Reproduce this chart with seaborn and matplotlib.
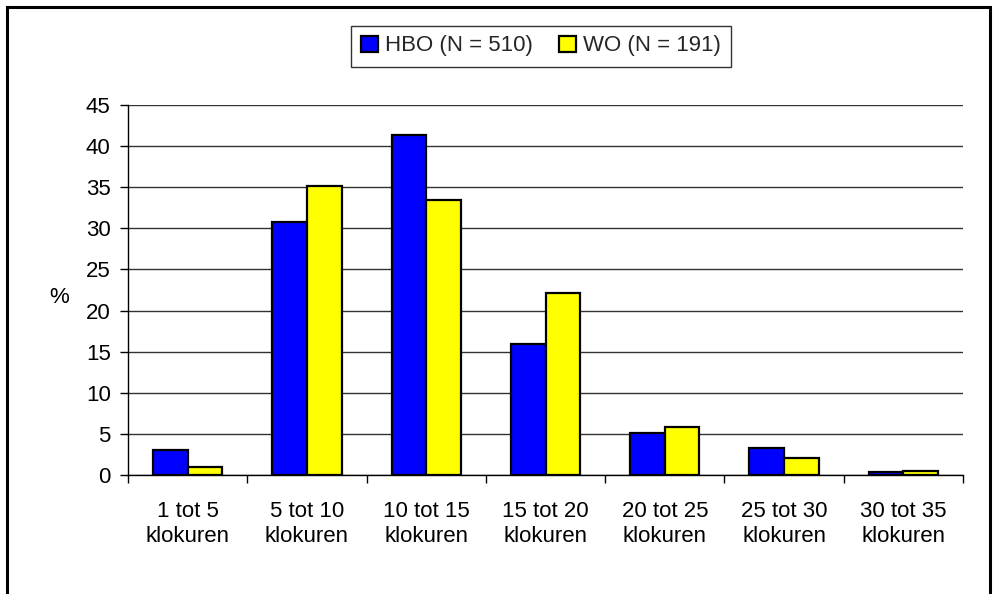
import matplotlib
matplotlib.use("Agg")
import matplotlib.pyplot as plt
import seaborn as sns
import pandas as pd
import numpy as np
from matplotlib.patches import Patch, Rectangle

categories = ["1 tot 5\nklokuren", "5 tot 10\nklokuren", "10 tot 15\nklokuren",
              "15 tot 20\nklokuren", "20 tot 25\nklokuren", "25 tot 30\nklokuren",
              "30 tot 35\nklokuren"]
hbo = [3.1, 30.8, 41.4, 15.9, 5.1, 3.3, 0.4]
wo = [1.0, 35.1, 33.5, 22.1, 5.8, 2.1, 0.5]
series = ["HBO (N = 510)", "WO (N = 191)"]
colors = ["#0000FF", "#FFFF00"]
yticks = [0, 5, 10, 15, 20, 25, 30, 35, 40, 45]

df = pd.DataFrame({
    "cat": categories * 2,
    "val": hbo + wo,
    "group": [series[0]] * len(categories) + [series[1]] * len(categories),
})

sns.set_theme(style="white")
plt.rcParams["font.family"] = ["Liberation Sans", "DejaVu Sans"]

FS = 16
W, H = 996, 594
fig = plt.figure(figsize=(W / 100, H / 100), dpi=100)
ax = fig.add_axes([128 / W, 1 - 475 / H, (963 - 128) / W, (475 - 105) / H])

sns.barplot(data=df, x="cat", y="val", hue="group", order=categories,
            hue_order=series, palette=colors, width=0.58, ax=ax,
            edgecolor="black", linewidth=1.6, saturation=1, legend=False, zorder=3)

ax.set_xlim(-0.5, len(categories) - 0.5)
ax.set_ylim(0, 45)
ax.set_yticks(yticks)
ax.yaxis.grid(True, color="#333333", linewidth=1.0, zorder=0)
ax.xaxis.grid(False)
for s in ["top", "right"]:
    ax.spines[s].set_visible(False)
for s in ["left", "bottom"]:
    ax.spines[s].set_color("black")
    ax.spines[s].set_linewidth(1.0)

ax.tick_params(axis="y", which="major", left=True, length=5.5, width=1,
               color="black", labelsize=FS, pad=7, labelcolor="black")
ax.set_xticks(range(len(categories)))
ax.set_xticklabels(categories)
ax.tick_params(axis="x", which="major", bottom=False, length=0, labelsize=FS,
               pad=19, labelcolor="black")
ax.set_xticks(np.arange(-0.5, len(categories), 1.0), minor=True)
ax.tick_params(axis="x", which="minor", bottom=True, length=6, width=1, color="black")
for lbl in ax.get_xticklabels():
    lbl.set_linespacing(1.25)

ax.set_xlabel("")
ax.set_ylabel("%", rotation=0, fontsize=FS, color="black")
ax.yaxis.set_label_coords(-0.082, 0.45)

handles = [Patch(facecolor=c, edgecolor="black", linewidth=1.6) for c in colors]
leg = fig.legend(handles, series, loc="center", bbox_to_anchor=(541 / W, 1 - 46 / H),
                 ncol=2, frameon=True, fancybox=False, fontsize=FS,
                 handlelength=0.75, handleheight=0.75, handletextpad=0.3,
                 columnspacing=1.2, borderpad=0.45, edgecolor="black")
leg.get_frame().set_linewidth(1.0)

# outer chart frame
fig.patches.append(Rectangle((7 / W, -0.05), (990 - 7) / W, 1.05 - 7 / H,
                             transform=fig.transFigure, fill=False,
                             edgecolor="black", linewidth=2.2, zorder=10))

fig.savefig("out.png", dpi=100)
